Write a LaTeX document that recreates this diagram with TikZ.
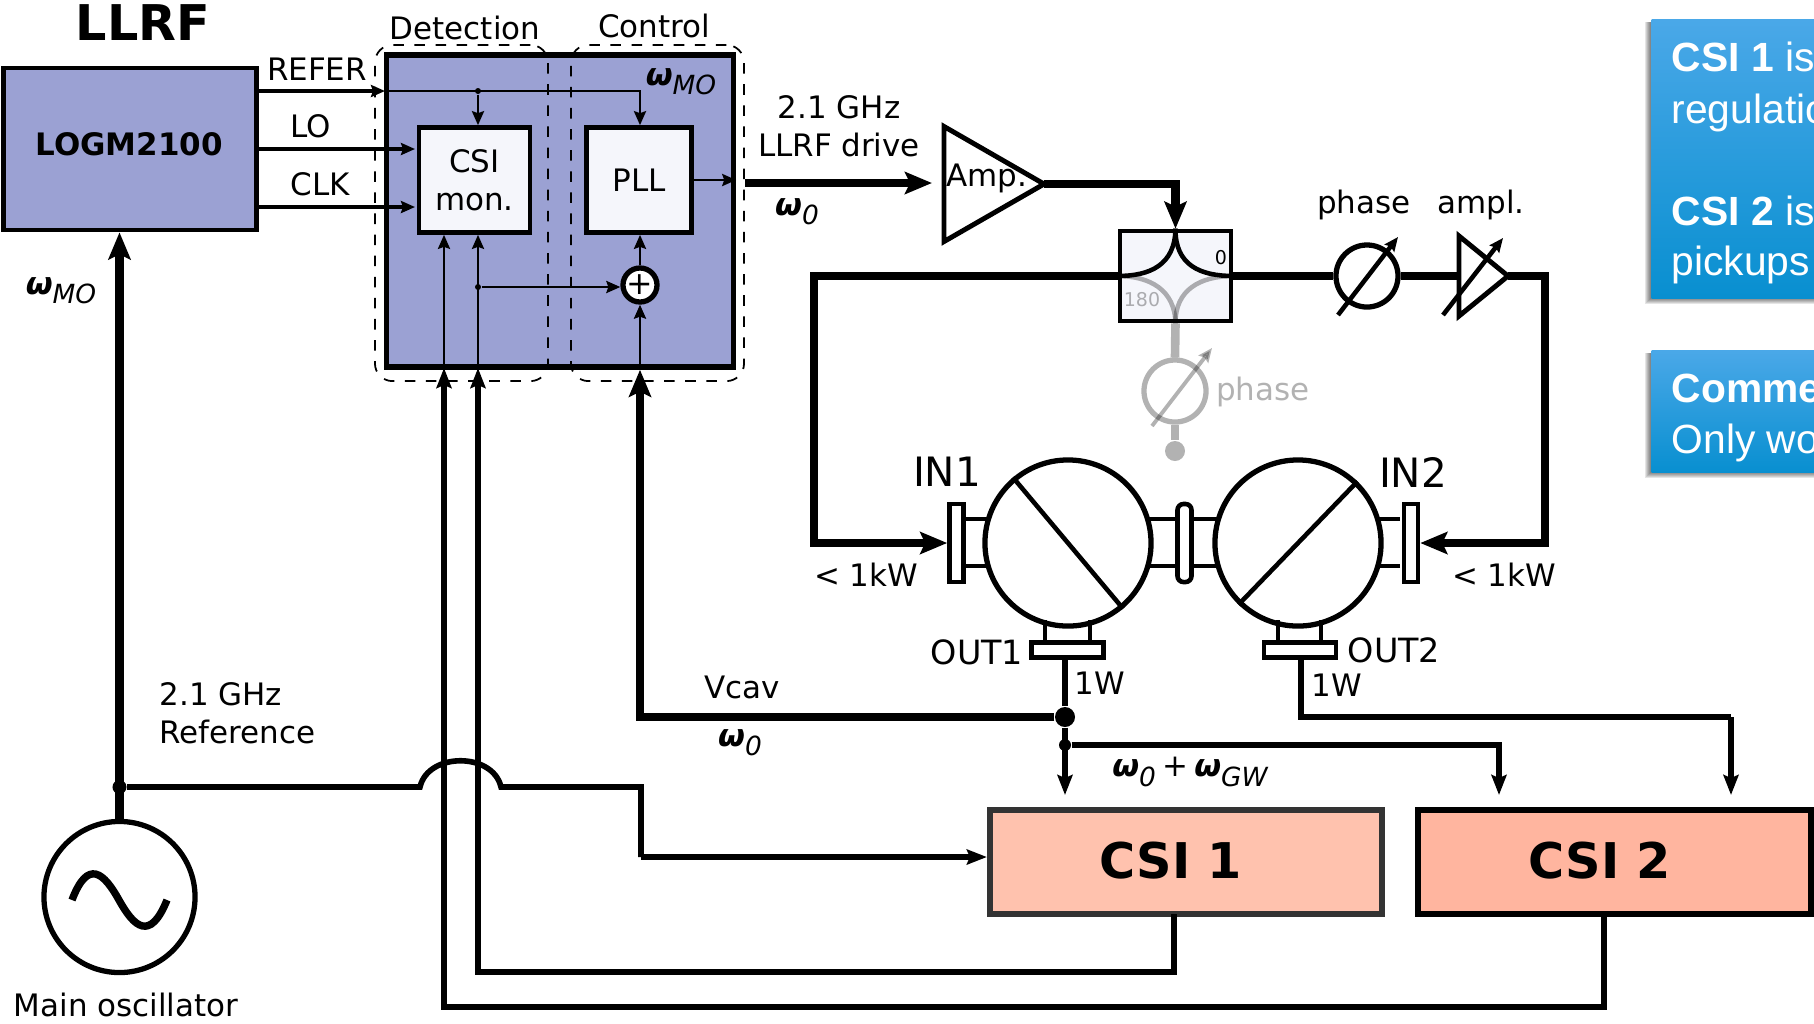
\documentclass[tikz,border=0pt]{standalone}
\usepackage{fontspec}
\setmainfont{DejaVu Sans}
\newfontfamily\panelfont{Liberation Sans}
\usetikzlibrary{arrows.meta,shapes.geometric}
\definecolor{LLRFblue}{RGB}{155,161,211}
\definecolor{BoxWhite}{RGB}{245,246,251}
\definecolor{CSIone}{RGB}{255,194,174}
\definecolor{CSItwo}{RGB}{255,181,159}
\definecolor{PanelTop}{RGB}{74,168,232}
\definecolor{PanelMid}{RGB}{0,160,230}
\definecolor{PanelLow}{RGB}{8,143,208}
\newcommand{\wlabel}[1]{{\bfseries\itshape ω}\raisebox{-.3em}{\fontsize{7.5}{9}\selectfont\itshape #1}}
\tikzset{
  txt/.style={inner sep=0pt, font=\fontsize{8.8}{10.9}\selectfont, align=center},
  txtbig/.style={inner sep=0pt, font=\fontsize{11.5}{13}\selectfont},
  txthead/.style={inner sep=0pt, font=\fontsize{14}{16}\selectfont\bfseries},
  txtcsi/.style={inner sep=0pt, font=\fontsize{14}{16}\selectfont\bfseries},
  txtpanel/.style={inner sep=0pt, anchor=base west, text=white, font=\fontsize{11.6}{13}\panelfont},
  ghost/.style={opacity=0.3},
  thickwire/.style={line width=2.45pt},
  midwire/.style={line width=1.6pt},
  thinwire/.style={line width=0.76pt},
  thicktip/.style={thickwire, -{Stealth[length=.27cm,width=.22cm,inset=.05cm]}},
  midtip/.style={midwire, -{Stealth[length=.2cm,width=.15cm,inset=.03cm]}},
  thintip/.style={thinwire, -{Stealth[length=.14cm,width=.12cm,inset=.02cm]}},
  block/.style={draw, rectangle, inner sep=0pt, line width=1.3pt},
  whitebox/.style={block, fill=BoxWhite, font=\fontsize{8.8}{10.9}\selectfont, align=center},
  dashbox/.style={draw, dashed, rounded corners=5pt, line width=0.5pt, minimum width=1.73cm, minimum height=3.36cm},
  ring/.style={draw, circle, fill=white, inner sep=0pt, line width=1.5pt},
  jdot/.style={circle, fill=black, inner sep=0pt},
  flange/.style={draw, rectangle, fill=white, inner sep=0pt, line width=1.3pt},
  amptri/.style={draw, isosceles triangle, isosceles triangle stretches, inner sep=0pt, outer sep=0pt, line width=1.4pt, anchor=lower side},
  bluepanel/.style={rectangle, inner sep=0pt, anchor=north west, minimum width=2.6cm,
    top color=PanelTop, middle color=PanelMid, bottom color=PanelLow}
}
\begin{document}
\begin{tikzpicture}[x=0.01cm, y=-0.01cm]
  \clip (0,0) rectangle (1814,1023);
  %% 1. Side panels
  \foreach \blur in {1,...,6}
    \fill[black, opacity=0.1] (1651-\blur,22) rectangle (1900,298+\blur);
  \foreach \blur in {1,...,6}
    \fill[black, opacity=0.1] (1651-\blur,353) rectangle (1900,472+\blur);
  \node[bluepanel, minimum height=2.79cm] (panelA) at (1651,19) {};
  \node[bluepanel, minimum height=1.22cm] (panelB) at (1651,350) {};
  \node[txtpanel] (noteA) at (1671,71) {\textbf{CSI 1} is};
  \node[txtpanel] (noteB) at (1671,123) {regulatio};
  \node[txtpanel] (noteC) at (1671,225) {\textbf{CSI 2} is};
  \node[txtpanel] (noteD) at (1671,275) {pickups};
  \node[txtpanel] (noteE) at (1671,402) {\textbf{Comme}};
  \node[txtpanel] (noteF) at (1671,453) {Only wo};

  %% 2. LLRF blocks
  \node[block, fill=LLRFblue, minimum width=2.53cm, minimum height=1.62cm] (logm) at (130,149) {};
  \node[inner sep=0pt, font=\fontsize{8.8}{10}\selectfont\bfseries] (logmtext) at (129,144) {LOGM2100};
  \node[block, fill=LLRFblue, line width=1.5pt, minimum width=3.47cm, minimum height=3.12cm] (llrfbox) at (560,211) {};
  \node[whitebox, minimum width=1.11cm, minimum height=1.05cm] (csimon) at (474.5,180) {CSI\\mon.};
  \node[whitebox, minimum width=1.05cm, minimum height=1.05cm] (pll) at (639,180) {PLL};
  \node[ring, minimum size=.34cm, font=\fontsize{9}{9}\selectfont] (adder) at (640,285) {+};
  \node[txthead] (llrftitle) at (143,23) {LLRF};

  %% 3. RF chain
  \node[amptri, minimum width=1.15cm, minimum height=1.0cm] (amp) at (944,184) {};
  \node[txt] (amptext) at (987,178) {Amp.};
  \node[block, fill=BoxWhite, minimum width=1.11cm, minimum height=.9cm] (coupler) at (1175.5,276) {};
  \node[ring, minimum size=.62cm] (phaseA) at (1367,276) {};
  \node[amptri, fill=white, minimum width=.8cm, minimum height=.49cm] (amplA) at (1459,276) {};
  \node[ring, minimum size=.62cm, fill=none, ghost] (phaseB) at (1175,391) {};
  \node[jdot, minimum size=.2cm, ghost] (stub) at (1175,451) {};

  %% 4. Cavities
  \foreach \tuby in {519,566}
    \draw[line width=1.3pt] (965,\tuby) -- (1400,\tuby);
  \node[ring, minimum size=1.66cm] (cavL) at (1068,543) {};
  \node[ring, minimum size=1.66cm] (cavR) at (1298,543) {};
  \draw[line width=1.3pt] (cavL.130) -- (cavL.-50);
  \draw[line width=1.3pt] (cavR.46) -- (cavR.226);
  \node[flange, minimum width=.14cm, minimum height=.78cm] (inL) at (956.5,543) {};
  \node[flange, minimum width=.14cm, minimum height=.78cm] (inR) at (1411,543) {};
  \node[flange, rounded corners=.06cm, minimum width=.14cm, minimum height=.78cm] (bellow) at (1184.5,543) {};
  \foreach \tubx in {1045,1090,1278,1321}
    \draw[line width=1.3pt] (\tubx,620) -- (\tubx,642);
  \node[flange, minimum width=.72cm, minimum height=.15cm] (outL) at (1067.5,650) {};
  \node[flange, minimum width=.72cm, minimum height=.15cm] (outR) at (1300,650) {};

  %% 5. CSI and oscillator
  \node[block, fill=CSIone, draw=black!80, line width=1.7pt, minimum width=3.92cm, minimum height=1.04cm] (csione) at (1186,862) {};
  \node[txtcsi] (csionetext) at (1171,861) {CSI 1};
  \node[block, fill=CSItwo, line width=1.7pt, minimum width=3.93cm, minimum height=1.04cm] (csitwo) at (1614.5,862) {};
  \node[txtcsi] (csitwotext) at (1600,861) {CSI 2};
  \node[ring, minimum size=1.51cm] (osc) at (119.5,897) {};
  \draw[line width=2.1pt] (72,900) .. controls (88,858) and (104,873) .. (119,900)
    .. controls (134,927) and (150,942) .. (167,900);

  %% 6. Named wire ends
  \coordinate (referin) at (385,91);
  \coordinate (loin) at (415,149);
  \coordinate (clkin) at (415,207);
  \coordinate (detA) at (444,368);
  \coordinate (detB) at (478,368);
  \coordinate (cornerA) at (444,1007);
  \coordinate (cornerB) at (478,972);
  \coordinate (csioneout) at (1174,914);
  \coordinate (csitwoout) at (1604,914);
  \coordinate (driveend) at (745,183);
  \coordinate (ampin) at (932,183);
  \coordinate (cornerL) at (814,543);
  \coordinate (cornerR) at (1545,543);
  \coordinate (bendin) at (641,857);
  \coordinate (bridgeL) at (420,787);
  \coordinate (bridgeR) at (501,787);
  \coordinate (tapA) at (1065,795);
  \coordinate (tapB) at (1499,795);
  \coordinate (tapC) at (1731,795);
  \coordinate (outRtap) at (1301,659);
  \coordinate (cornerC) at (1731,717);
  \node[jdot, minimum size=.06cm] (dotRefer) at (478,91) {};
  \node[jdot, minimum size=.06cm] (dotDet) at (478,287) {};
  \node[jdot, minimum size=.14cm] (dotOsc) at (119.5,787) {};
  \node[jdot, minimum size=.2cm] (dotA) at (1065,717) {};
  \node[jdot, minimum size=.12cm] (dotB) at (1065,745) {};

  %% 7. Thin wires
  \draw[thintip, line width=.9pt] (logm.east |- referin) -- (referin);
  \draw[thintip] (referin) -| (pll.north -| adder);
  \draw[thintip] (dotRefer) -- (csimon.north -| dotRefer);
  \draw[thintip, line width=.9pt] (logm.east |- loin) -- (loin);
  \draw[thintip, line width=.9pt] (logm.east |- clkin) -- (clkin);
  \draw[thintip] (detA) -- (csimon.south -| detA);
  \draw[thintip] (detB) -- (csimon.south -| detB);
  \draw[thintip] (dotDet) -- (adder.west |- dotDet);
  \draw[thintip] (adder.north) -- (pll.south -| adder);
  \draw[thintip] (adder |- llrfbox.south) -- (adder.south);
  \draw[thintip] (pll.east) -- (llrfbox.east |- pll);

  %% 8. Wires outside LLRF
  \draw[thicktip] (osc.north) -- (osc |- logm.south);
  \draw[midwire] (dotOsc) -- (bridgeL) .. controls (428,752) and (493,752) .. (bridgeR) -| (bendin);
  \draw[midtip] (bendin) -- (bendin -| csione.west);
  \draw[midtip] (csioneout) |- (cornerB) -- (detB);
  \draw[midtip] (csitwoout) |- (cornerA) -- (detA);
  \draw[thicktip] (dotA) -| (adder |- llrfbox.south);
  \draw[thicktip] (driveend) -- (ampin);
  \draw[thicktip] (amp.apex) -| (coupler.north);
  \draw[thicktip] (coupler.west) -| (cornerL) -- (inL.west);
  \draw[thickwire] (coupler.east) -- (phaseA.west);
  \draw[thickwire] (phaseA.east) -- (amplA.lower side);
  \draw[thicktip] (amplA.apex) -| (cornerR) -- (inR.east);
  \draw[midwire] (outL.south -| dotA) -- (dotA);
  \draw[midtip] (dotA) -- (tapA);
  \draw[midtip] (dotB) -| (tapB);
  \draw[midwire] (outRtap) |- (cornerC);
  \draw[midtip] (cornerC) -- (tapC);

  %% 9. Coupler curves and shifter arrows
  \draw[line width=1.3pt] (coupler.west) .. controls (1150,276) and (1175,265) .. (coupler.north);
  \draw[line width=1.3pt] (coupler.east) .. controls (1200,276) and (1175,265) .. (coupler.north);
  \draw[line width=1.3pt, ghost] (coupler.west) .. controls (1150,276) and (1175,290) .. (coupler.south);
  \draw[line width=1.3pt, ghost] (coupler.east) .. controls (1200,276) and (1175,290) .. (coupler.south);
  \draw[line width=2.45pt, ghost] (coupler.south) -- (phaseB.north);
  \draw[line width=2.45pt, ghost] (phaseB.south) -- (stub.north);
  \coordinate (shiftAa) at (1338,315);
  \coordinate (shiftAb) at (1398,237);
  \coordinate (shiftBa) at (1443,315);
  \coordinate (shiftBb) at (1503,238);
  \coordinate (shiftCa) at (1152,426);
  \coordinate (shiftCb) at (1212,348);
  \draw[thintip, line width=1.3pt] (shiftAa) -- (shiftAb);
  \draw[thintip, line width=1.3pt] (shiftBa) -- (shiftBb);
  \draw[thintip, line width=1.1pt, ghost] (shiftCa) -- (shiftCb);

  %% 10. Dashed groups
  \node[dashbox] (detgroup) at (461.5,213) {};
  \node[dashbox] (ctlgroup) at (657.5,213) {};

  %% 11. Labels
  \node[txt] (lbDet) at (465,28) {Detection};
  \node[txt] (lbCtl) at (654,26) {Control};
  \node[txt] (lbRefer) at (317,69) {REFER};
  \node[txt] (lbLo) at (311,126) {LO};
  \node[txt] (lbClk) at (320,184) {CLK};
  \node[txt] (lbWmoA) at (681,82) {\wlabel{MO}};
  \node[txt] (lbWmoB) at (61,291) {\wlabel{MO}};
  \node[txt] (lbDrive) at (839,126) {2.1 GHz\\LLRF drive};
  \node[txt] (lbWoA) at (797,212) {\wlabel{0}};
  \node[txt] (lbWoB) at (740,743) {\wlabel{0}};
  \node[txt] (lbVcav) at (742,687) {Vcav};
  \node[txt, anchor=west, align=left] (lbRef) at (159,713) {2.1 GHz\\Reference};
  \node[txt] (lbOsc) at (126,1005) {Main oscillator};
  \node[txt] (lbPhase) at (1364,205) {phase};
  \node[txt] (lbAmpl) at (1481,205) {ampl.};
  \node[txt, ghost] (lbPhaseB) at (1263,392) {phase};
  \node[inner sep=0pt, font=\fontsize{5.4}{6}\selectfont] (lbZero) at (1221,258) {0};
  \node[inner sep=0pt, font=\fontsize{5.4}{6}\selectfont, ghost] (lbPi) at (1142,300) {180};
  \node[txtbig] (lbInA) at (947,472) {IN1};
  \node[txtbig] (lbInB) at (1413,472) {IN2};
  \node[txt] (lbKwA) at (866,575) {< 1kW};
  \node[txt] (lbKwB) at (1504,575) {< 1kW};
  \node[txt, font=\fontsize{9.5}{11}\selectfont] (lbOutA) at (977,652) {OUT1};
  \node[txt, font=\fontsize{9.5}{11}\selectfont] (lbOutB) at (1394,650) {OUT2};
  \node[txt] (lbWa) at (1100,683) {1W};
  \node[txt] (lbWb) at (1337,685) {1W};
  \node[txt] (lbSum) at (1190,772) {\wlabel{0}\hspace{.2em}+\hspace{.2em}\wlabel{GW}};
\end{tikzpicture}
\end{document}
